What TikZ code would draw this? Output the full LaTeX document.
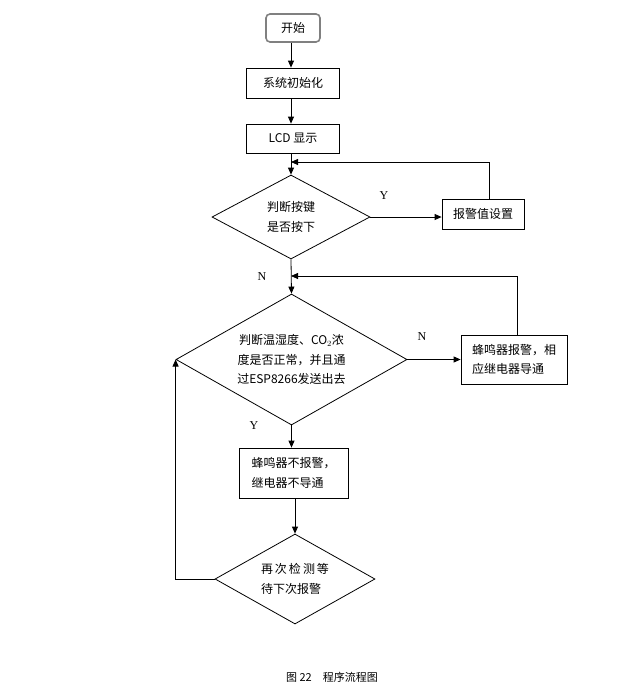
\documentclass[tikz,border=0pt]{standalone}
\usepackage{fontspec}
\setmainfont{Liberation Serif}
\newfontfamily\cjk{Noto Sans CJK SC}
\usetikzlibrary{shapes.geometric,arrows.meta}

\tikzset{
  box/.style={draw, line width=0.8pt, inner sep=0pt, font=\cjk\fontsize{12}{19.5}\selectfont},
  startbox/.style={box, draw=gray, line width=1.6pt, rounded corners=4pt},
  decide/.style={diamond, draw, line width=0.8pt, inner sep=0pt, font=\cjk\fontsize{12}{19.5}\selectfont},
  arr/.style={line width=0.8pt, -{Triangle[length=7pt,width=6pt]}},
  yn/.style={font=\fontsize{12}{14}\selectfont}
}

\begin{document}
\begin{tikzpicture}
    \useasboundingbox (0pt,0pt) rectangle (618pt,-697pt);
    % nodes
    \node[startbox, minimum width=54pt, minimum height=28pt] (start) at (293pt,-28pt) {开始};
    \node[box, minimum width=93pt, minimum height=30pt] (init) at (293pt,-83pt) {系统初始化};
    \node[box, minimum width=93pt, minimum height=29pt] (lcd) at (293pt,-138.5pt) {LCD 显示};
    \node[decide, aspect=1.88, minimum width=158pt, minimum height=84pt, align=center] (keychk) at (291pt,-217pt) {判断按键\\是否按下};
    \node[box, minimum width=82pt, minimum height=30pt] (alarmset) at (483pt,-214pt) {报警值设置};
    \node[decide, aspect=1.76, minimum width=231pt, minimum height=131pt, align=center] (envchk) at (291.5pt,-359.5pt) {判断温湿度、CO$_2$浓\\度是否正常，并且通\\过ESP8266发送出去};
    \node[box, minimum width=106pt, minimum height=49pt, align=left] (buzzon) at (514pt,-359.5pt) {蜂鸣器报警，相\\应继电器导通};
    \node[box, minimum width=109pt, minimum height=50pt, align=left] (buzzoff) at (293.5pt,-473pt) {蜂鸣器不报警，\\继电器不导通};
    \node[decide, aspect=1.78, minimum width=160pt, minimum height=90pt, align=left] (recheck) at (295pt,-579pt) {再\,次\,检\,测\,等\\待下次报警};
    \node[font=\cjk\fontsize{11}{13}\selectfont] (caption) at (332pt,-677pt) {图 22\quad 程序流程图};
    % labels
    \node[yn] (ykey) at (384pt,-196pt) {Y};
    \node[yn] (nkey) at (262pt,-277pt) {N};
    \node[yn] (nenv) at (422pt,-337pt) {N};
    \node[yn] (yenv) at (254pt,-426pt) {Y};
    % joins
    \coordinate (j1) at (291pt,-162pt);
    \coordinate (j2) at (291pt,-276pt);
    % connectors
    \draw[arr] (start.south -| keychk) -- (init.north -| keychk);
    \draw[arr] (init.south -| keychk) -- (lcd.north -| keychk);
    \draw[arr] (lcd.south -| keychk) -- (keychk.north);
    \draw[arr] (keychk.east) -- (keychk.east -| alarmset.west);
    \draw[arr] ([xshift=6pt]alarmset.north) |- (j1);
    \draw[arr] (keychk.south) -- (envchk.north);
    \draw[arr] (envchk.east) -- (buzzon.west);
    \draw[arr] ([xshift=3pt]buzzon.north) |- (j2);
    \draw[arr] (envchk.south) -- (buzzoff.north -| envchk);
    \draw[arr] (buzzoff.south -| recheck) -- (recheck.north);
    \draw[arr] (recheck.west) -| (envchk.west);
\end{tikzpicture}
\end{document}
